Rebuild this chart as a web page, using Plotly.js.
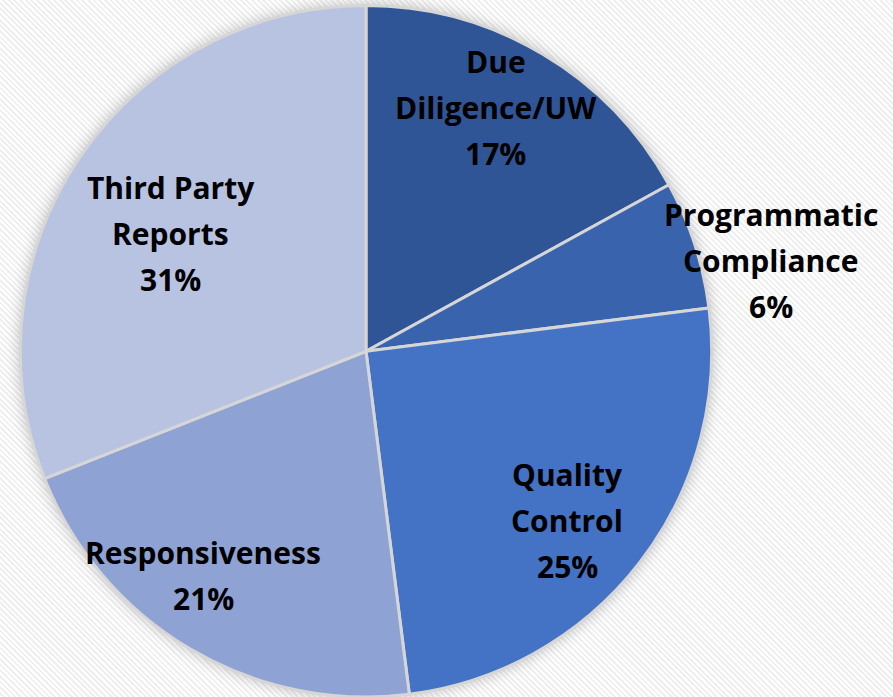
<!DOCTYPE html>
<html>
<head>
<meta charset="utf-8">
<script src="https://cdn.plot.ly/plotly-3.0.1.min.js"></script>
<style>
  html, body { margin: 0; padding: 0; width: 893px; height: 697px; overflow: hidden;
    background: repeating-linear-gradient(45deg, #ffffff 0px, #ffffff 2px, #efefef 2px, #efefef 4px); }
  #chart { width: 893px; height: 697px; }
  #chart .pielayer { filter: drop-shadow(0 0 7px rgba(0,0,0,0.22)); }
</style>
</head>
<body>
<div id="chart"></div>
<script>
// ---- data ----
const categories = ["Due<br>Diligence/UW", "Programmatic<br>Compliance", "Quality<br>Control", "Responsiveness", "Third Party<br>Reports"];
const values = [17, 6, 25, 21, 31];
const colors = ["#2F5597", "#3A63AE", "#4472C4", "#8FA2D4", "#B8C3E2"];

// ---- label placement (style: radius factor, angle offset in degrees) ----
const labelRadius = [0.80, 1.20, 0.76, 0.80, 0.66];
const labelAngleShift = [-2.6, 5.3, 2.2, 5.4, -3.0];

const W = 893, H = 697;
const domX = [0.0224, 0.7973];
const domY = [0.0, 0.992];
const cx = (domX[0] + domX[1]) / 2 * W;
const cy = H - (domY[0] + domY[1]) / 2 * H;
const R = Math.min((domX[1] - domX[0]) * W, (domY[1] - domY[0]) * H) / 2;

const total = values.reduce((a, b) => a + b, 0);
const annotations = [];
let cum = 0;
const lineGap = 46;
values.forEach((v, i) => {
  const mid = (cum + v / 2) / total * 360 + labelAngleShift[i];
  cum += v;
  const th = mid * Math.PI / 180;
  const px = cx + labelRadius[i] * R * Math.sin(th);
  const py = cy - labelRadius[i] * R * Math.cos(th);
  const lines = categories[i].split("<br>").concat([Math.round(v / total * 100) + "%"]);
  const n = lines.length;
  lines.forEach((t, k) => {
    annotations.push({
      xref: "paper", yref: "paper",
      x: px / W, y: 1 - py / H,
      text: t, showarrow: false,
      xanchor: "center", yanchor: "middle",
      yshift: ((n - 1) / 2 - k) * lineGap,
      font: { family: "'Open Sans', Lato, sans-serif", size: 30, color: "#000000", weight: "bold" }
    });
  });
});

const trace = {
  type: "pie",
  labels: categories,
  values: values,
  sort: false,
  direction: "clockwise",
  rotation: 0,
  textinfo: "none",
  hoverinfo: "none",
  domain: { x: domX, y: domY },
  marker: { colors: colors, line: { color: "#D6D6D6", width: 3 } }
};

const layout = {
  width: W, height: H,
  margin: { l: 0, r: 0, t: 0, b: 0 },
  paper_bgcolor: "rgba(0,0,0,0)",
  plot_bgcolor: "rgba(0,0,0,0)",
  showlegend: false,
  annotations: annotations
};

Plotly.newPlot("chart", [trace], layout, { displayModeBar: false, staticPlot: true });
</script>
</body>
</html>
